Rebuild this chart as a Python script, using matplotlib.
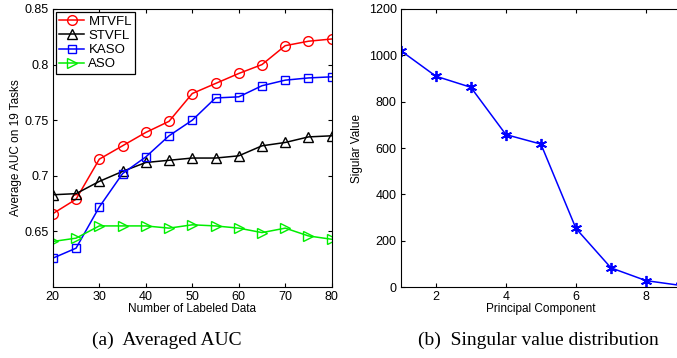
import matplotlib
matplotlib.use('Agg')
import matplotlib.pyplot as plt

plt.rcParams['font.family'] = 'Liberation Sans'

n_labeled = [20, 25, 30, 35, 40, 45, 50, 55, 60, 65, 70, 75, 80]
mtvfl = [0.666, 0.679, 0.715, 0.727, 0.739, 0.749, 0.774, 0.783, 0.792, 0.800, 0.817, 0.821, 0.823]
stvfl = [0.683, 0.684, 0.695, 0.704, 0.712, 0.714, 0.716, 0.716, 0.718, 0.727, 0.730, 0.735, 0.736]
kaso = [0.626, 0.635, 0.672, 0.702, 0.717, 0.736, 0.750, 0.770, 0.771, 0.781, 0.786, 0.788, 0.789]
aso = [0.641, 0.644, 0.655, 0.655, 0.655, 0.653, 0.656, 0.655, 0.653, 0.649, 0.653, 0.646, 0.643]

components = [1, 2, 3, 4, 5, 6, 7, 8, 9]
singular = [1020, 910, 862, 658, 617, 253, 83, 28, 7]

fig = plt.figure(figsize=(6.77, 3.58), dpi=100)

# (a) averaged AUC
ax1 = fig.add_axes([0.078, 0.198, 0.412, 0.777])
ms = 7
ax1.plot(n_labeled, mtvfl, '-o', color='r', mfc='none', ms=ms, lw=1.1, label='MTVFL')
ax1.plot(n_labeled, stvfl, '-^', color='k', mfc='none', ms=ms, lw=1.1, label='STVFL')
ax1.plot(n_labeled, kaso, '-s', color='b', mfc='none', ms=6, lw=1.1, label='KASO')
ax1.plot(n_labeled, aso, '->', color='#00ee00', mfc='none', ms=ms, lw=1.1, label='ASO')
ax1.set_xlim(20, 80)
ax1.set_ylim(0.6, 0.85)
ax1.set_yticks([0.65, 0.7, 0.75, 0.8, 0.85])
ax1.set_yticklabels(['0.65', '0.7', '0.75', '0.8', '0.85'])
ax1.set_xticks(range(20, 81, 10))
ax1.set_xlabel('Number of Labeled Data', fontsize=8.5, labelpad=0)
ax1.set_ylabel('Average AUC on 19 Tasks', fontsize=8.5, labelpad=2)
ax1.tick_params(labelsize=9, direction='in', top=True, right=True, length=3, pad=3)
leg = ax1.legend(loc='upper left', fontsize=9.5, fancybox=False, framealpha=1,
                 edgecolor='k', borderaxespad=0.25, handlelength=1.9,
                 handletextpad=0.3, labelspacing=0.15, borderpad=0.25)
leg.get_frame().set_linewidth(0.9)

# (b) singular values
ax2 = fig.add_axes([0.592, 0.198, 0.414, 0.777])
ax2.plot(components, singular, '-', color='b', lw=1.1,
         marker=(6, 2, 0), ms=8, mew=1.3)
ax2.set_xlim(1, 9)
ax2.set_ylim(0, 1200)
ax2.set_xticks([2, 4, 6, 8])
ax2.set_yticks(range(0, 1201, 200))
ax2.set_xlabel('Principal Component', fontsize=8.5, labelpad=0)
ax2.set_ylabel('Sigular Value', fontsize=8.5, labelpad=4)
ax2.tick_params(labelsize=9, direction='in', top=True, right=True, length=3, pad=3)

fig.text(0.247, 0.05, '(a)  Averaged AUC', ha='center', va='center',
         fontsize=14, family='Liberation Serif')
fig.text(0.795, 0.05, '(b)  Singular value distribution', ha='center', va='center',
         fontsize=14, family='Liberation Serif')

fig.savefig('out.png', dpi=100)
